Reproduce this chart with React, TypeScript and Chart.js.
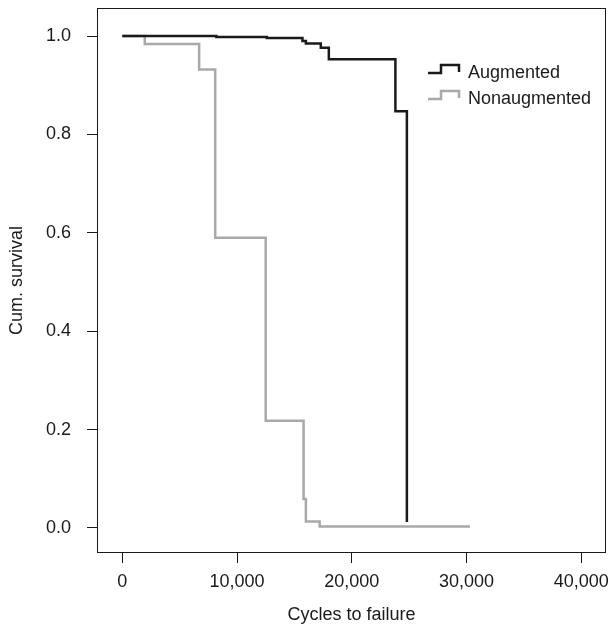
import React, { useEffect, useRef } from "react";
import { Chart, registerables } from "chart.js";

Chart.register(...registerables);

// ---- data ----
const seriesLabels = ["Augmented", "Nonaugmented"];
const augmentedCycles = [0, 8200, 12600, 15700, 16000, 17300, 18000, 23800, 24800];
const augmentedSurvival = [1.0, 0.998, 0.996, 0.99, 0.985, 0.976, 0.953, 0.847, 0.012];
const nonaugmentedCycles = [0, 1960, 6700, 8100, 12500, 15800, 16000, 17200, 30300];
const nonaugmentedSurvival = [1.0, 0.984, 0.932, 0.59, 0.218, 0.059, 0.013, 0.003, 0.003];
const xTickValues = [0, 10000, 20000, 30000, 40000];
const yTickValues = [0, 0.2, 0.4, 0.6, 0.8, 1.0];
const xAxisTitle = "Cycles to failure";
const yAxisTitle = "Cum. survival";

const FONT = '"Liberation Sans", Arial, Helvetica, sans-serif';
const FONT_SIZE = 18;
const INK = "#1a1a1a";
const GREY = "#a9a9a9";

const boxPlugin = {
  id: "plotBox",
  afterDatasetsDraw(chart: any) {
    const { ctx, chartArea } = chart;
    ctx.save();
    ctx.strokeStyle = INK;
    ctx.lineWidth = 1;
    ctx.strokeRect(
      Math.round(chartArea.left) + 0.5,
      Math.round(chartArea.top) + 0.5,
      Math.round(chartArea.right - chartArea.left) - 1,
      Math.round(chartArea.bottom - chartArea.top) - 1
    );
    ctx.restore();
  },
};

const stepLegendPlugin = {
  id: "stepLegend",
  afterDraw(chart: any) {
    const { ctx, chartArea } = chart;
    const x0 = chartArea.left + 331;
    const y0 = chartArea.top + 65;
    chart.data.datasets.forEach((ds: any, i: number) => {
      const y = y0 + i * 26;
      ctx.save();
      ctx.strokeStyle = ds.borderColor;
      ctx.lineWidth = 2.5;
      ctx.lineJoin = "miter";
      ctx.beginPath();
      ctx.moveTo(x0, y);
      ctx.lineTo(x0 + 13, y);
      ctx.lineTo(x0 + 13, y - 8);
      ctx.lineTo(x0 + 31, y - 8);
      ctx.lineTo(x0 + 31, y - 1);
      ctx.stroke();
      ctx.fillStyle = INK;
      ctx.font = `${FONT_SIZE}px ${FONT}`;
      ctx.textAlign = "left";
      ctx.textBaseline = "alphabetic";
      ctx.fillText(ds.label, x0 + 40, y + 5);
      ctx.restore();
    });
  },
};

export default function App() {
  const canvasRef = useRef<HTMLCanvasElement>(null);

  useEffect(() => {
    if (!canvasRef.current) return;
    Chart.defaults.font.family = FONT;
    Chart.defaults.color = INK;

    const chart = new Chart(canvasRef.current, {
      type: "line",
      data: {
        datasets: [
          {
            label: seriesLabels[0],
            data: augmentedCycles.map((x, i) => ({ x, y: augmentedSurvival[i] })),
            borderColor: INK,
            borderWidth: 2.5,
            stepped: "before",
            pointRadius: 0,
            fill: false,
          },
          {
            label: seriesLabels[1],
            data: nonaugmentedCycles.map((x, i) => ({ x, y: nonaugmentedSurvival[i] })),
            borderColor: GREY,
            borderWidth: 2.5,
            stepped: "before",
            pointRadius: 0,
            fill: false,
          },
        ],
      },
      options: {
        animation: false,
        responsive: false,
        layout: { padding: { left: 0, top: 8, right: 2, bottom: 0 } },
        plugins: {
          legend: { display: false },
          tooltip: { enabled: false },
        },
        scales: {
          x: {
            type: "linear",
            min: -2200,
            max: 42150,
            afterBuildTicks: (scale: any) => {
              scale.ticks = xTickValues.map((v) => ({ value: v }));
            },
            afterFit: (scale: any) => {
              scale.height = 73;
              scale.paddingLeft = 0;
              scale.paddingRight = 0;
            },
            border: { display: false },
            grid: {
              display: true,
              drawOnChartArea: false,
              drawTicks: true,
              tickLength: 10,
              color: INK,
              lineWidth: 1,
            },
            ticks: {
              padding: 8,
              font: { size: FONT_SIZE },
              color: INK,
              maxRotation: 0,
              autoSkip: false,
              callback: (v: any) => Number(v).toLocaleString("en-US"),
            },
            title: {
              display: true,
              text: xAxisTitle,
              font: { size: FONT_SIZE },
              color: INK,
              padding: { top: 0, bottom: 0 },
            },
          },
          y: {
            type: "linear",
            min: -0.051,
            max: 1.057,
            afterBuildTicks: (scale: any) => {
              scale.ticks = yTickValues.map((v) => ({ value: v }));
            },
            afterFit: (scale: any) => {
              scale.width = 97;
              scale.paddingTop = 0;
              scale.paddingBottom = 0;
            },
            border: { display: false },
            grid: {
              display: true,
              drawOnChartArea: false,
              drawTicks: true,
              tickLength: 10,
              color: INK,
              lineWidth: 1,
            },
            ticks: {
              padding: 16,
              font: { size: FONT_SIZE },
              color: INK,
              autoSkip: false,
              callback: (v: any) => Number(v).toFixed(1),
            },
            title: {
              display: true,
              text: yAxisTitle,
              font: { size: FONT_SIZE },
              color: INK,
              padding: { top: 6, bottom: 0 },
            },
          },
        },
      },
      plugins: [boxPlugin, stepLegendPlugin],
    });

    return () => chart.destroy();
  }, []);

  return (
    <div style={{ position: "absolute", left: 0, top: 0, width: 608, height: 626, background: "#fff" }}>
      <canvas ref={canvasRef} width={608} height={626} style={{ display: "block" }} />
    </div>
  );
}
